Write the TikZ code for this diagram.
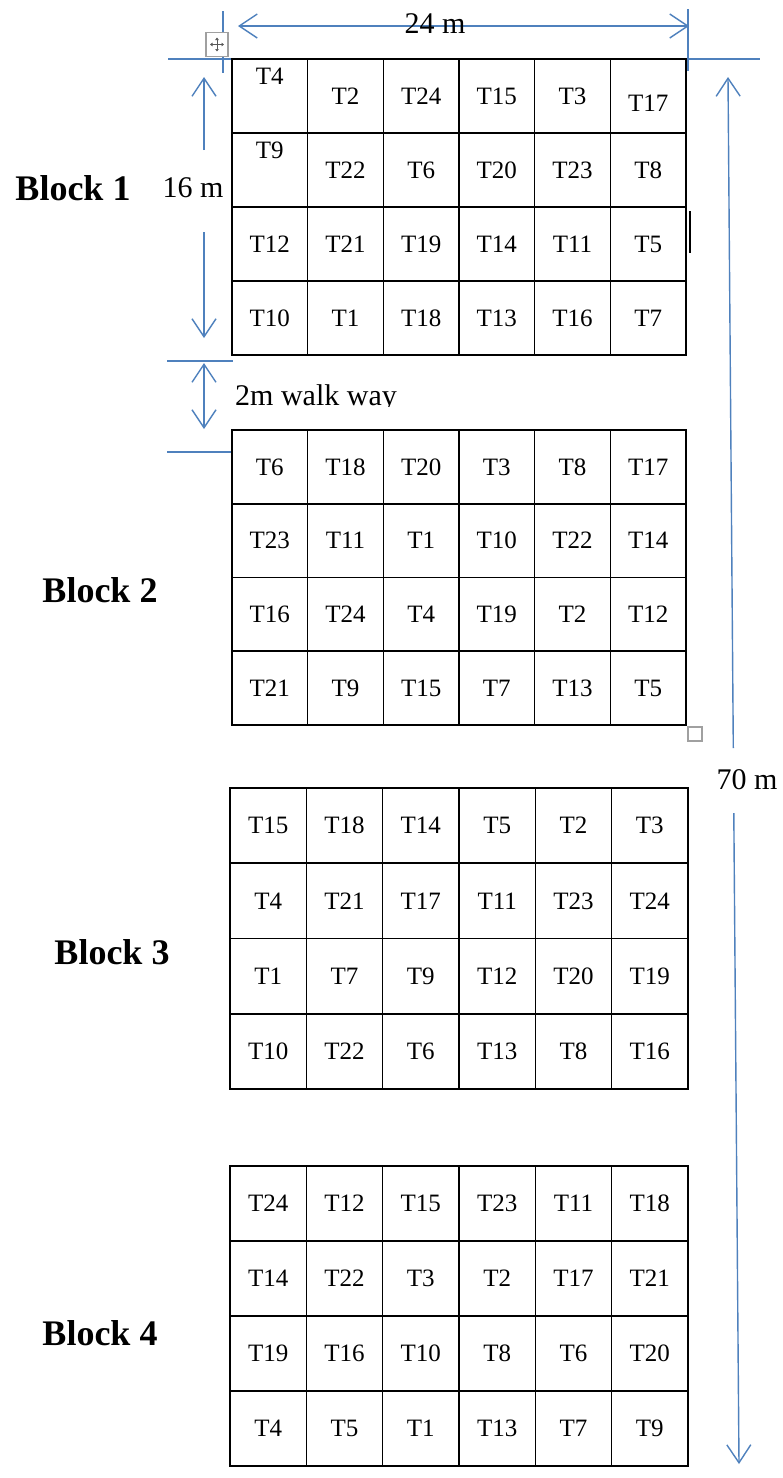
\documentclass[tikz,border=0pt]{standalone}
\usepackage{fontspec}
\setmainfont{Liberation Serif}
\usetikzlibrary{arrows.meta}

\definecolor{dimblue}{HTML}{4F81BD}
\definecolor{handlegray}{HTML}{A0A0A0}

\tikzset{
  gridline/.style={black, line width=1.6pt},
  cell/.style={inner sep=0pt, font=\fontsize{25}{28}\selectfont},
  blocklabel/.style={inner sep=0pt, font=\fontsize{36}{40}\selectfont\bfseries},
  dimtext/.style={inner sep=0pt, font=\fontsize{30}{34}\selectfont},
  dimline/.style={dimblue, line width=1.4pt},
  dimarrow/.style={dimline, -{Straight Barb[length=18pt,width=24pt,line width=1.4pt]}},
  dimboth/.style={dimline, {Straight Barb[length=18pt,width=24pt,line width=1.4pt]}-{Straight Barb[length=18pt,width=24pt,line width=1.4pt]}},
  handle/.style={draw=handlegray, fill=white, line width=1.2pt},
  % cells of the first block whose text sits off centre
  b1-1-1/.style={yshift=20pt},
  b1-2-1/.style={yshift=20pt},
  b1-1-6/.style={yshift=-7pt},
}

% #1 name, #2 left, #3 top, #4 right, #5 bottom, #6 rows of plot labels
\newcommand\plotblock[6]{%
  \draw[gridline] (#2,#3) rectangle (#4,#5);
  \foreach \k in {1,...,5}
    \draw[gridline] ({#2+\k*(#4-#2)/6},#3) -- ({#2+\k*(#4-#2)/6},#5);
  \foreach \k in {1,2,3}
    \draw[gridline] (#2,{#3+\k*(#5-#3)/4}) -- (#4,{#3+\k*(#5-#3)/4});
  \foreach \row [count=\j] in {#6} {
    \foreach \t [count=\i] in \row {
      \node[cell, #1-\j-\i/.try] (#1-\j-\i)
        at ({#2+(\i-0.5)*(#4-#2)/6},{#3+(\j-0.5)*(#5-#3)/4}) {\t};
    }
  }
}

\begin{document}
\begin{tikzpicture}[x=1pt,y=-1pt]
\useasboundingbox (0,0) rectangle (783,1478);

% ---- dimension coordinates ----
\coordinate (wL) at (238,26);
\coordinate (wR) at (689,26);
\coordinate (extLt) at (223,11);
\coordinate (extLb) at (223,73);
\coordinate (extRt) at (688,9);
\coordinate (extRb) at (688,71);
\coordinate (topLa) at (168,59);
\coordinate (topLb) at (232,59);
\coordinate (topRa) at (686,59);
\coordinate (topRb) at (760,59);

\coordinate (hTip) at (204,77);
\coordinate (hUp) at (204,150);
\coordinate (hDn) at (204,232);
\coordinate (hBot) at (204,338);
\coordinate (gapA1) at (167,361);
\coordinate (gapA2) at (233,361);
\coordinate (gapB1) at (167,452);
\coordinate (gapB2) at (233,452);
\coordinate (wwTop) at (204,363);
\coordinate (wwBot) at (204,429);

\coordinate (lTip) at (728,77);
\coordinate (lUp) at (733.3,748);
\coordinate (lDn) at (733.8,813);
\coordinate (lBot) at (739,1464);

% ---- blue dimension lines ----
\draw[dimboth] (wL) -- (wR);
\draw[dimline] (extLt) -- (extLb);
\draw[dimline] (extRt) -- (extRb);
\draw[dimline] (topLa) -- (topLb);
\draw[dimline] (topRa) -- (topRb);

\draw[dimarrow] (hUp) -- (hTip);
\draw[dimarrow] (hDn) -- (hBot);
\draw[dimline] (gapA1) -- (gapA2);
\draw[dimline] (gapB1) -- (gapB2);
\draw[dimboth] (wwTop) -- (wwBot);

\draw[dimarrow] (lUp) -- (lTip);
\draw[dimarrow] (lDn) -- (lBot);

% ---- dimension texts ----
\node[dimtext] (w24) at (435,24) {24 m};
\node[dimtext] (h16) at (193,188) {16 m};
\node[dimtext] (l70) at (747,780) {70 m};
\begin{scope}
  \clip (228,370) rectangle (420,406.5);
  \node[dimtext, anchor=base west] (walk) at (235,405) {2m walk way};
\end{scope}

% ---- table handles ----
\node[handle, minimum width=22pt, minimum height=24pt, inner sep=0pt] (mv) at (217,44.5) {};
\draw[black!65, line width=1pt, {Triangle[length=2.5pt,width=3.5pt]}-{Triangle[length=2.5pt,width=3.5pt]}]
  ([xshift=-7pt]mv.center) -- ([xshift=7pt]mv.center);
\draw[black!65, line width=1pt, {Triangle[length=2.5pt,width=3.5pt]}-{Triangle[length=2.5pt,width=3.5pt]}]
  ([yshift=-7pt]mv.center) -- ([yshift=7pt]mv.center);
\node[handle, minimum width=14pt, minimum height=14pt, inner sep=0pt] (rs) at (695,734) {};

% ---- plot layout ----
\plotblock{b1}{232}{59}{686}{355}{%
  {T4,T2,T24,T15,T3,T17},
  {T9,T22,T6,T20,T23,T8},
  {T12,T21,T19,T14,T11,T5},
  {T10,T1,T18,T13,T16,T7}}
\plotblock{b2}{232}{430}{686}{725}{%
  {T6,T18,T20,T3,T8,T17},
  {T23,T11,T1,T10,T22,T14},
  {T16,T24,T4,T19,T2,T12},
  {T21,T9,T15,T7,T13,T5}}
\plotblock{b3}{230}{788}{688}{1089}{%
  {T15,T18,T14,T5,T2,T3},
  {T4,T21,T17,T11,T23,T24},
  {T1,T7,T9,T12,T20,T19},
  {T10,T22,T6,T13,T8,T16}}
\plotblock{b4}{230}{1166}{688}{1466}{%
  {T24,T12,T15,T23,T11,T18},
  {T14,T22,T3,T2,T17,T21},
  {T19,T16,T10,T8,T6,T20},
  {T4,T5,T1,T13,T7,T9}}

% short stroke beside the first block
\coordinate (mk1) at (690,211);
\coordinate (mk2) at (690,253);
\draw[gridline] (mk1) -- (mk2);

% ---- block names ----
\node[blocklabel] (blk1) at (73,188) {Block 1};
\node[blocklabel] (blk2) at (100,590) {Block 2};
\node[blocklabel] (blk3) at (112,952) {Block 3};
\node[blocklabel] (blk4) at (100,1333) {Block 4};
\end{tikzpicture}
\end{document}
